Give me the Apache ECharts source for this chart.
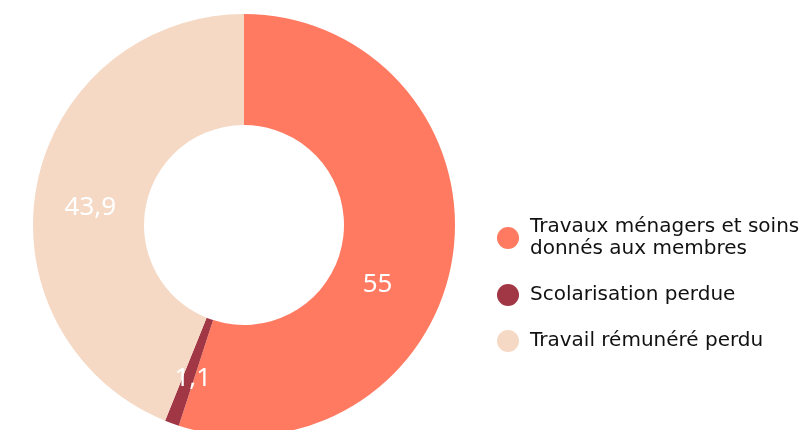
<!DOCTYPE html>
<html>
<head>
<meta charset="utf-8">
<style>
  html, body { margin: 0; padding: 0; background: #ffffff; }
  #chart { width: 804px; height: 430px; }
</style>
<script src="https://cdn.jsdelivr.net/npm/echarts@6/dist/echarts.min.js"></script>
</head>
<body>
<div id="chart"></div>
<script>
// Categories and shares (%)
const categories = [
  'Travaux ménagers et soins\ndonnés aux membres',
  'Scolarisation perdue',
  'Travail rémunéré perdu'
];
const values = [55, 1.1, 43.9];
const valueLabels = ['55', '1,1', '43,9'];
const colors = ['#FF7A61', '#A13644', '#F5D9C5'];
// Small nudges for the in-slice value labels
const labelOffsets = [[-23, 35], [3, 5], [2, 13]];

const LABEL_FONT = 'Noto Sans';
const LEGEND_FONT = 'DejaVu Sans';

const chart = echarts.init(document.getElementById('chart'), null, { renderer: 'canvas' });

const data = categories.map((name, i) => ({
  name: name,
  value: values[i],
  itemStyle: { color: colors[i] },
  label: { formatter: valueLabels[i], offset: labelOffsets[i] }
}));

chart.setOption({
  animation: false,
  backgroundColor: '#ffffff',
  legend: {
    orient: 'vertical',
    left: 492,
    top: 211,
    icon: 'circle',
    itemWidth: 32,
    itemHeight: 22,
    itemGap: 24,
    data: categories,
    textStyle: {
      fontFamily: LEGEND_FONT,
      fontSize: 20,
      lineHeight: 22,
      color: '#111111',
      padding: [0, 0, 0, 1]
    }
  },
  series: [{
    type: 'pie',
    center: [244, 225],
    radius: [100, 211],
    startAngle: 90,
    clockwise: true,
    silent: true,
    label: {
      show: true,
      position: 'inside',
      color: '#ffffff',
      fontFamily: LABEL_FONT,
      fontSize: 26
    },
    labelLine: { show: false },
    data: data
  }]
});
</script>
</body>
</html>
